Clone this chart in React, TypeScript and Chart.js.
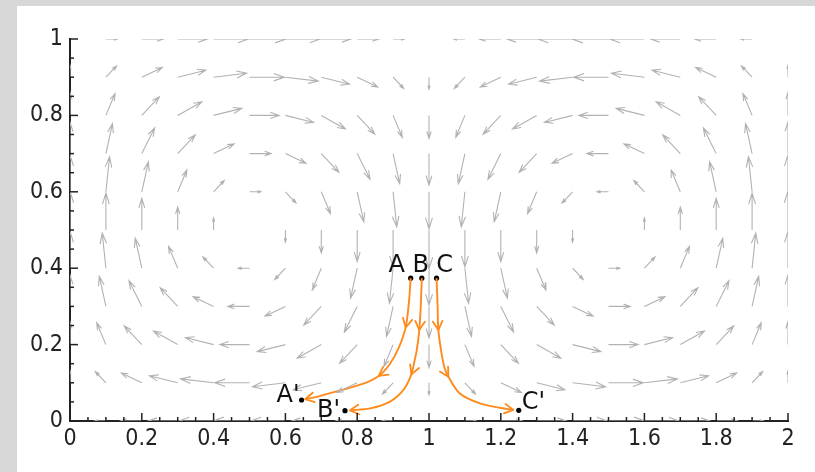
import React, { useEffect, useRef } from "react";
import { Chart, registerables } from "chart.js";

Chart.register(...registerables);

// ---- Vector field grid (arrow tails) ----
const COL_X = [0, 0.1, 0.2, 0.3, 0.4, 0.5, 0.6, 0.7, 0.8, 0.9, 1, 1.1, 1.2, 1.3, 1.4, 1.5, 1.6, 1.7, 1.8, 1.9, 2];
const ROW_Y = [1, 0.9, 0.8, 0.7, 0.6, 0.5, 0.4, 0.3, 0.2, 0.1, 0];

// Horizontal components (100 = longest arrow), one row per y, top to bottom
const U_Y10 = [0, 31, 59, 81, 95, 100, 95, 81, 59, 31, 0, -31, -59, -81, -95, -100, -95, -81, -59, -31, 0];
const U_Y09 = [0, 29, 56, 77, 90, 95, 90, 77, 56, 29, 0, -29, -56, -77, -90, -95, -90, -77, -56, -29, 0];
const U_Y08 = [0, 25, 48, 66, 77, 81, 77, 66, 48, 25, 0, -25, -48, -66, -77, -81, -77, -66, -48, -25, 0];
const U_Y07 = [0, 18, 35, 48, 56, 59, 56, 48, 35, 18, 0, -18, -35, -48, -56, -59, -56, -48, -35, -18, 0];
const U_Y06 = [0, 10, 18, 25, 29, 31, 29, 25, 18, 10, 0, -10, -18, -25, -29, -31, -29, -25, -18, -10, 0];
const U_Y05 = [0, 0, 0, 0, 0, 0, 0, 0, 0, 0, 0, 0, 0, 0, 0, 0, 0, 0, 0, 0, 0];
const U_Y04 = [0, -10, -18, -25, -29, -31, -29, -25, -18, -10, 0, 10, 18, 25, 29, 31, 29, 25, 18, 10, 0];
const U_Y03 = [0, -18, -35, -48, -56, -59, -56, -48, -35, -18, 0, 18, 35, 48, 56, 59, 56, 48, 35, 18, 0];
const U_Y02 = [0, -25, -48, -66, -77, -81, -77, -66, -48, -25, 0, 25, 48, 66, 77, 81, 77, 66, 48, 25, 0];
const U_Y01 = [0, -29, -56, -77, -90, -95, -90, -77, -56, -29, 0, 29, 56, 77, 90, 95, 90, 77, 56, 29, 0];
const U_Y00 = [0, -31, -59, -81, -95, -100, -95, -81, -59, -31, 0, 31, 59, 81, 95, 100, 95, 81, 59, 31, 0];

// Vertical components
const V_Y10 = [0, 0, 0, 0, 0, 0, 0, 0, 0, 0, 0, 0, 0, 0, 0, 0, 0, 0, 0, 0, 0];
const V_Y09 = [31, 29, 25, 18, 10, 0, -10, -18, -25, -29, -31, -29, -25, -18, -10, 0, 10, 18, 25, 29, 31];
const V_Y08 = [59, 56, 48, 35, 18, 0, -18, -35, -48, -56, -59, -56, -48, -35, -18, 0, 18, 35, 48, 56, 59];
const V_Y07 = [81, 77, 66, 48, 25, 0, -25, -48, -66, -77, -81, -77, -66, -48, -25, 0, 25, 48, 66, 77, 81];
const V_Y06 = [95, 90, 77, 56, 29, 0, -29, -56, -77, -90, -95, -90, -77, -56, -29, 0, 29, 56, 77, 90, 95];
const V_Y05 = [100, 95, 81, 59, 31, 0, -31, -59, -81, -95, -100, -95, -81, -59, -31, 0, 31, 59, 81, 95, 100];
const V_Y04 = [95, 90, 77, 56, 29, 0, -29, -56, -77, -90, -95, -90, -77, -56, -29, 0, 29, 56, 77, 90, 95];
const V_Y03 = [81, 77, 66, 48, 25, 0, -25, -48, -66, -77, -81, -77, -66, -48, -25, 0, 25, 48, 66, 77, 81];
const V_Y02 = [59, 56, 48, 35, 18, 0, -18, -35, -48, -56, -59, -56, -48, -35, -18, 0, 18, 35, 48, 56, 59];
const V_Y01 = [31, 29, 25, 18, 10, 0, -10, -18, -25, -29, -31, -29, -25, -18, -10, 0, 10, 18, 25, 29, 31];
const V_Y00 = [0, 0, 0, 0, 0, 0, 0, 0, 0, 0, 0, 0, 0, 0, 0, 0, 0, 0, 0, 0, 0];

const U_ROWS = [U_Y10, U_Y09, U_Y08, U_Y07, U_Y06, U_Y05, U_Y04, U_Y03, U_Y02, U_Y01, U_Y00];
const V_ROWS = [V_Y10, V_Y09, V_Y08, V_Y07, V_Y06, V_Y05, V_Y04, V_Y03, V_Y02, V_Y01, V_Y00];

// ---- Trajectories ----
const PATH_A_X = [0.949, 0.944, 0.935, 0.915, 0.89, 0.86, 0.815, 0.745, 0.69, 0.655];
const PATH_A_Y = [0.374, 0.31, 0.245, 0.19, 0.148, 0.118, 0.097, 0.078, 0.064, 0.057];
const PATH_B_X = [0.98, 0.977, 0.973, 0.966, 0.958, 0.951, 0.93, 0.89, 0.836, 0.78];
const PATH_B_Y = [0.374, 0.3, 0.238, 0.186, 0.15, 0.122, 0.083, 0.05, 0.033, 0.028];
const PATH_C_X = [1.021, 1.024, 1.026, 1.035, 1.043, 1.054, 1.086, 1.142, 1.2, 1.235];
const PATH_C_Y = [0.374, 0.3, 0.238, 0.177, 0.14, 0.116, 0.072, 0.046, 0.034, 0.029];
const CHEVRON_AT = [2, 5, 9];

// ---- Marked points ----
const POINT_NAMES = ["A", "B", "C", "A'", "B'", "C'"];
const POINT_X = [0.949, 0.98, 1.021, 0.645, 0.766, 1.25];
const POINT_Y = [0.374, 0.374, 0.374, 0.055, 0.027, 0.028];

const ARROW_SCALE = 0.00102;
const ORANGE = "#ff8a1c";
const ARROW_GRAY = "#b2b2b2";

// label placement (pixels): [dx, dy, align]
const LABEL_STYLE: [number, number, CanvasTextAlign][] = [
  [-14, -12, "center"],
  [-1, -12, "center"],
  [8, -12, "center"],
  [-2, -4, "right"],
  [-5, 0, "right"],
  [3, -8, "left"],
];

function buildQuiver() {
  const pts: { x: number | null; y: number | null }[] = [];
  const a = 0.3;
  const b = 0.33;
  for (let j = 0; j < ROW_Y.length; j++) {
    for (let i = 0; i < COL_X.length; i++) {
      const u = U_ROWS[j][i] * ARROW_SCALE;
      const v = V_ROWS[j][i] * ARROW_SCALE;
      if (u === 0 && v === 0) continue;
      const x0 = COL_X[i];
      const y0 = ROW_Y[j];
      const tx = x0 + u;
      const ty = y0 + v;
      pts.push({ x: x0, y: y0 }, { x: tx, y: ty }, { x: null, y: null });
      pts.push(
        { x: tx - a * (u + b * v), y: ty - a * (v - b * u) },
        { x: tx, y: ty },
        { x: tx - a * (u - b * v), y: ty - a * (v + b * u) },
        { x: null, y: null }
      );
    }
  }
  return pts;
}

function pathData(xs: number[], ys: number[]) {
  return xs.map((x, i) => ({ x, y: ys[i] }));
}

const PATHS = [
  { xs: PATH_A_X, ys: PATH_A_Y },
  { xs: PATH_B_X, ys: PATH_B_Y },
  { xs: PATH_C_X, ys: PATH_C_Y },
];

const overlayPlugin = {
  id: "overlay",
  beforeDraw(chart: any) {
    try {
      chart.ctx.fontStretch = "condensed";
    } catch (e) {}
  },
  afterDatasetsDraw(chart: any) {
    const { ctx } = chart;
    const xs = chart.scales.x;
    const ys = chart.scales.y;
    ctx.save();
    ctx.strokeStyle = ORANGE;
    ctx.lineWidth = 1.8;
    ctx.lineCap = "round";
    const L = 10;
    const spread = 0.5;
    PATHS.forEach((p) => {
      CHEVRON_AT.forEach((i) => {
        const n = p.xs.length;
        const i0 = Math.max(0, i - 1);
        const i1 = Math.min(n - 1, i + 1);
        const tx = xs.getPixelForValue(p.xs[i]);
        const ty = ys.getPixelForValue(p.ys[i]);
        const dx = xs.getPixelForValue(p.xs[i1]) - xs.getPixelForValue(p.xs[i0]);
        const dy = ys.getPixelForValue(p.ys[i1]) - ys.getPixelForValue(p.ys[i0]);
        const ang = Math.atan2(dy, dx);
        ctx.beginPath();
        for (const s of [-1, 1]) {
          const aa = ang + Math.PI + s * spread;
          ctx.moveTo(tx, ty);
          ctx.lineTo(tx + L * Math.cos(aa), ty + L * Math.sin(aa));
        }
        ctx.stroke();
      });
    });
    ctx.restore();
  },
  afterDraw(chart: any) {
    const { ctx } = chart;
    const xs = chart.scales.x;
    const ys = chart.scales.y;
    const area = chart.chartArea;
    ctx.save();
    ctx.strokeStyle = "#222";
    ctx.lineWidth = 1.5;
    for (let k = 0; k <= 40; k++) {
      const px = xs.getPixelForValue(k * 0.05);
      const len = k % 4 === 0 ? 8 : 4;
      ctx.beginPath();
      ctx.moveTo(px, area.bottom);
      ctx.lineTo(px, area.bottom - len);
      ctx.stroke();
    }
    for (let k = 0; k <= 20; k++) {
      const py = ys.getPixelForValue(k * 0.05);
      const len = k % 4 === 0 ? 8 : 4;
      ctx.beginPath();
      ctx.moveTo(area.left, py);
      ctx.lineTo(area.left + len, py);
      ctx.stroke();
    }
    try {
      ctx.fontStretch = "normal";
    } catch (e) {}
    ctx.fillStyle = "#111";
    ctx.font = "24px 'DejaVu Sans', sans-serif";
    ctx.textBaseline = "middle";
    POINT_NAMES.forEach((name, i) => {
      const [dx, dy, align] = LABEL_STYLE[i];
      ctx.textAlign = align;
      ctx.fillText(name, xs.getPixelForValue(POINT_X[i]) + dx, ys.getPixelForValue(POINT_Y[i]) + dy);
    });
    ctx.restore();
  },
};

const fmt = (v: any) => String(Math.round(Number(v) * 10) / 10);

export default function App() {
  const ref = useRef<HTMLCanvasElement | null>(null);
  useEffect(() => {
    if (!ref.current) return;
    const tickFont = { family: "'Liberation Sans Narrow', 'DejaVu Sans Condensed', 'DejaVu Sans', sans-serif", size: 23 };
    const chart = new Chart(ref.current, {
      type: "scatter",
      data: {
        datasets: [
          {
            data: buildQuiver() as any,
            showLine: true,
            spanGaps: false,
            borderColor: ARROW_GRAY,
            borderWidth: 1.1,
            pointRadius: 0,
            tension: 0,
          },
          ...PATHS.map((p) => ({
            data: pathData(p.xs, p.ys) as any,
            showLine: true,
            borderColor: ORANGE,
            borderWidth: 1.9,
            pointRadius: 0,
            tension: 0.3,
          })),
          {
            data: POINT_X.map((x, i) => ({ x, y: POINT_Y[i] })) as any,
            showLine: false,
            pointRadius: 2.6,
            pointBackgroundColor: "#000",
            pointBorderWidth: 0,
            clip: false as any,
          },
        ],
      },
      options: {
        responsive: false,
        animation: false,
        devicePixelRatio: 1,
        events: [],
        layout: { padding: { left: 0, top: 39, right: 27, bottom: 0 } },
        plugins: { legend: { display: false }, tooltip: { enabled: false } },
        scales: {
          x: {
            type: "linear",
            min: 0,
            max: 2,
            z: 1,
            grid: { display: false, drawTicks: false },
            border: { display: true, color: "#222", width: 2 },
            ticks: { stepSize: 0.2, autoSkip: false, maxRotation: 0, padding: 4, color: "#222", font: tickFont, callback: fmt },
            afterFit: (s: any) => {
              s.height = 51;
            },
          },
          y: {
            type: "linear",
            min: 0,
            max: 1,
            z: 1,
            grid: { display: false, drawTicks: false },
            border: { display: true, color: "#222", width: 2 },
            ticks: { stepSize: 0.2, autoSkip: false, padding: 7, color: "#222", font: tickFont, callback: fmt },
            afterFit: (s: any) => {
              s.width = 70;
            },
          },
        },
      },
      plugins: [overlayPlugin],
    } as any);
    return () => chart.destroy();
  }, []);

  return (
    <div style={{ position: "fixed", left: 0, top: 0, width: 815, height: 472, background: "#fff", overflow: "hidden" }}>
      <div style={{ position: "absolute", left: 0, top: 0, width: 17, height: 472, background: "#d7d7d7" }} />
      <div style={{ position: "absolute", left: 0, top: 0, width: 815, height: 6, background: "#d7d7d7" }} />
      <canvas ref={ref} width={815} height={472} style={{ position: "absolute", left: 0, top: 0, width: 815, height: 472 }} />
    </div>
  );
}
